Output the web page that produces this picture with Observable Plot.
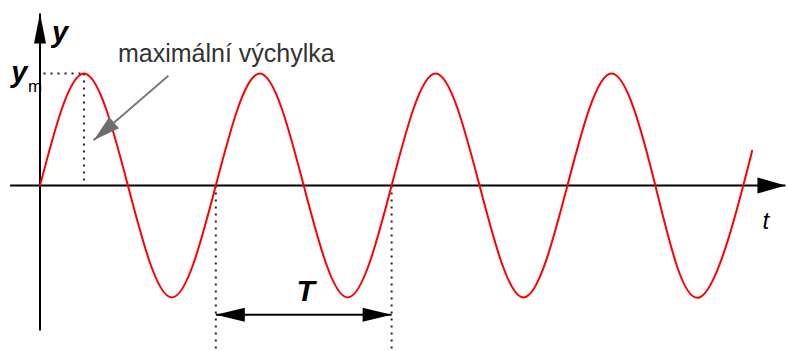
<!DOCTYPE html>
<html>
<head>
<meta charset="utf-8">
<script src="https://cdn.jsdelivr.net/npm/d3@7"></script>
<script src="https://cdn.jsdelivr.net/npm/@observablehq/plot@0.6"></script>
<style>
  html, body { margin: 0; padding: 0; background: #fff; }
  #chart svg { display: block; }
</style>
</head>
<body>
<div id="chart"></div>
<script>
// ---- Data (t in units of the period T, y in units of y_m) ----
const waveT = [0, 0.25, 0.5, 0.75, 1, 1.25, 1.5, 1.75, 2, 2.25, 2.5, 2.75, 3, 3.25, 3.5, 3.75, 4, 4.05];
const waveY = [0, 1, 0, -1, 0, 1, 0, -1, 0, 1, 0, -1, 0, 1, 0, -1, 0, 0.31];

const periodStart = 1;   // left end of the T bracket
const periodEnd = 2;     // right end of the T bracket
const peakT = 0.25;      // first maximum
const amplitude = 1;     // y_m

const xAxisExtent = [-0.17, 4.24];
const yAxisExtent = [-1.295, 1.536];
const guideBottom = -1.5;
const bracketY = -1.155;

const labelY = "y";
const labelYm = "y";
const labelYmSub = "m";
const labelT = "T";
const labelTime = "t";
const labelMax = "maximální výchylka";
const pointerFrom = {t: 0.73, y: 0.98};
const pointerTo = {t: 0.305, y: 0.405};

// ---- Helpers ----
const wave = waveT.map((t, i) => ({t, y: waveY[i]}));

function head(angle, len, hw) {
  return {
    draw(ctx) {
      const c = Math.cos(angle), s = Math.sin(angle);
      const bx = -len * c, by = -len * s;
      ctx.moveTo(0, 0);
      ctx.lineTo(bx - hw * s, by + hw * c);
      ctx.lineTo(bx + hw * s, by - hw * c);
      ctx.closePath();
    }
  };
}

const font = "'Liberation Sans', Arial, sans-serif";
const dotted = {stroke: "#222", strokeWidth: 2, strokeDasharray: "2,5"};

const chart = Plot.plot({
  width: 788,
  height: 351,
  marginLeft: 39.5,
  marginRight: 2,
  marginTop: 73,
  marginBottom: 54,
  x: {domain: [0, 4.246], axis: null},
  y: {domain: [-1, 1], axis: null},
  style: {background: "#fff", fontFamily: font},
  marks: [
    // dotted guides
    Plot.link([{x1: 0.02, x2: peakT, y1: amplitude, y2: amplitude}], {x1: "x1", x2: "x2", y1: "y1", y2: "y2", ...dotted}),
    Plot.link([{x1: peakT, x2: peakT, y1: amplitude, y2: 0}], {x1: "x1", x2: "x2", y1: "y1", y2: "y2", ...dotted}),
    Plot.link([periodStart, periodEnd], {x1: d => d, x2: d => d, y1: 0, y2: guideBottom, ...dotted}),
    // axes
    Plot.link([{x1: xAxisExtent[0], x2: xAxisExtent[1], y1: 0, y2: 0}], {x1: "x1", x2: "x2", y1: "y1", y2: "y2", stroke: "#000", strokeWidth: 2}),
    Plot.link([{x1: 0, x2: 0, y1: yAxisExtent[0], y2: yAxisExtent[1]}], {x1: "x1", x2: "x2", y1: "y1", y2: "y2", stroke: "#000", strokeWidth: 2}),
    Plot.dot([{t: xAxisExtent[1], y: 0}], {x: "t", y: "y", symbol: head(0, 28, 8), fill: "#000", stroke: "none"}),
    Plot.dot([{t: 0, y: yAxisExtent[1]}], {x: "t", y: "y", symbol: head(-Math.PI / 2, 30, 6), fill: "#000", stroke: "none"}),
    // wave
    Plot.line(wave, {x: "t", y: "y", curve: "natural", stroke: "#ff0000", strokeWidth: 2}),
    // pointer arrow
    Plot.link([{a: pointerFrom, b: pointerTo}], {x1: d => d.a.t, y1: d => d.a.y, x2: d => d.b.t, y2: d => d.b.y, stroke: "#7a7a7a", strokeWidth: 2}),
    Plot.dot([pointerTo], {x: "t", y: "y", symbol: head(Math.atan2(65, -76), 27, 7.5), fill: "#6e6e6e", stroke: "none"}),
    // T bracket
    Plot.link([{x1: periodStart, x2: periodEnd, y1: bracketY, y2: bracketY}], {x1: "x1", x2: "x2", y1: "y1", y2: "y2", stroke: "#000", strokeWidth: 2}),
    Plot.dot([{t: periodStart, y: bracketY}], {x: "t", y: "y", symbol: head(Math.PI, 29, 7), fill: "#000", stroke: "none"}),
    Plot.dot([{t: periodEnd, y: bracketY}], {x: "t", y: "y", symbol: head(0, 29, 7), fill: "#000", stroke: "none"}),
    // labels
    Plot.text([labelY], {x: 0, y: yAxisExtent[1], text: d => d, dx: 12, dy: 29, textAnchor: "start", lineAnchor: "bottom", fontSize: 29, fontWeight: "bold", fontStyle: "italic", fill: "#000", fontFamily: font}),
    Plot.text([labelYm], {x: 0, y: amplitude, text: d => d, dx: -12.5, dy: 8, textAnchor: "end", lineAnchor: "bottom", fontSize: 29, fontWeight: "bold", fontStyle: "italic", fill: "#000", fontFamily: font}),
    Plot.text([labelYmSub], {x: 0, y: amplitude, text: d => d, dx: -12, dy: 18, textAnchor: "start", lineAnchor: "bottom", fontSize: 17, fill: "#000", fontFamily: font}),
    Plot.text([labelMax], {x: peakT, y: amplitude, text: d => d, dx: 34, dy: -12, textAnchor: "start", lineAnchor: "bottom", fontSize: 25, fill: "#333", fontFamily: font}),
    Plot.text([labelT], {x: (periodStart + periodEnd) / 2, y: bracketY, text: d => d, dx: 2, dy: -14, textAnchor: "middle", lineAnchor: "bottom", fontSize: 30, fontWeight: "bold", fontStyle: "italic", fill: "#000", fontFamily: font}),
    Plot.text([labelTime], {x: xAxisExtent[1], y: 0, text: d => d, dx: -23, dy: 43, textAnchor: "start", lineAnchor: "bottom", fontSize: 24, fontStyle: "italic", fill: "#000", fontFamily: font})
  ]
});

document.getElementById("chart").appendChild(chart);
</script>
</body>
</html>
